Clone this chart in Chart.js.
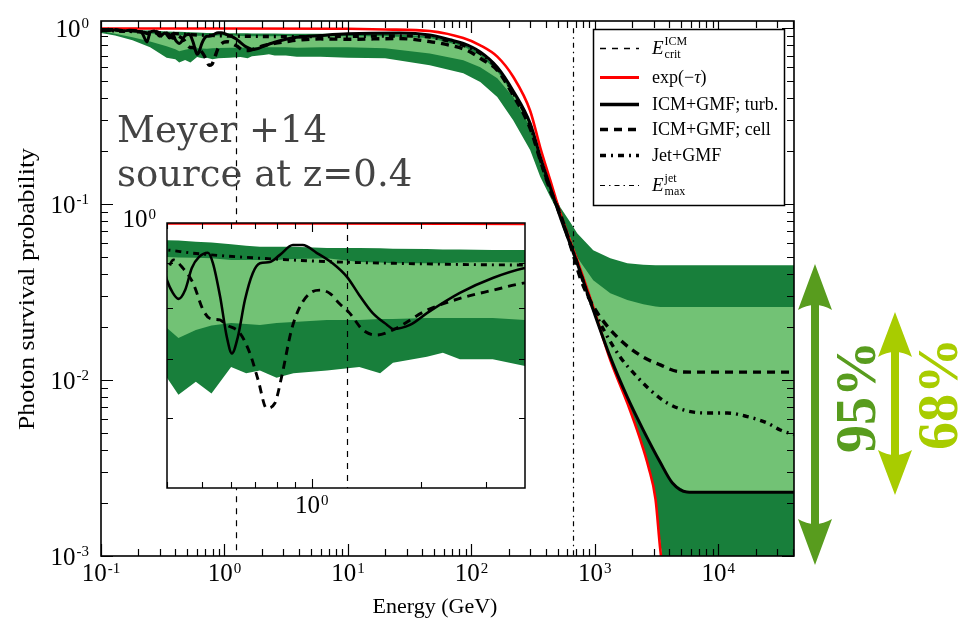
<!DOCTYPE html>
<html>
<head>
<meta charset="utf-8">
<script src="https://cdn.jsdelivr.net/npm/chart.js@4.4.1/dist/chart.umd.min.js"></script>
<style>
  html, body { margin: 0; padding: 0; background: #fff; }
  #wrap { position: relative; width: 961px; height: 621px; overflow: hidden; }
  #main { position: absolute; left: 0; top: 0; }
  #inset { position: absolute; left: 120px; top: 200px; }
</style>
</head>
<body>
<div id="wrap">
  <canvas id="main" width="961" height="621"></canvas>
  <canvas id="inset" width="420" height="320"></canvas>
</div>
<script>
// ---- data (energy in GeV, survival probability) ----
const bandE = [0.1, 0.13, 0.18, 0.25, 0.34, 0.4, 0.43, 0.48, 0.53, 0.6, 0.66, 0.72, 0.8, 0.89, 1.1, 1.35, 1.54, 1.67, 2.07, 2.29, 2.55, 3.14, 3.85, 6, 10, 20, 46, 86, 118, 162, 218, 299, 361, 435, 525, 632, 719, 970, 1334, 1832, 2466, 3100, 3390, 3800, 4300, 5560, 7100, 41000];
const band95Hi = [0.985, 0.98, 0.975, 0.97, 0.96, 0.956, 0.955, 0.952, 0.95, 0.946, 0.942, 0.94, 0.94, 0.94, 0.937, 0.937, 0.936, 0.935, 0.934, 0.933, 0.933, 0.932, 0.932, 0.932, 0.932, 0.93, 0.905, 0.815, 0.725, 0.595, 0.435, 0.285, 0.188, 0.127, 0.096, 0.079, 0.0684, 0.0548, 0.0493, 0.0462, 0.0452, 0.045, 0.045, 0.045, 0.045, 0.045, 0.045, 0.045];
const band68Hi = [0.975, 0.965, 0.95, 0.935, 0.92, 0.915, 0.914, 0.913, 0.912, 0.908, 0.908, 0.908, 0.908, 0.91, 0.912, 0.903, 0.902, 0.9, 0.9, 0.9, 0.902, 0.903, 0.902, 0.9, 0.9, 0.9, 0.88, 0.79, 0.70, 0.57, 0.42, 0.28, 0.18, 0.123, 0.088, 0.065, 0.05, 0.037, 0.0312, 0.0285, 0.027, 0.0262, 0.026, 0.026, 0.026, 0.026, 0.026, 0.026];
const band68Lo = [0.965, 0.93, 0.89, 0.84, 0.79, 0.76, 0.74, 0.756, 0.765, 0.77, 0.768, 0.766, 0.77, 0.772, 0.776, 0.776, 0.778, 0.778, 0.78, 0.78, 0.78, 0.78, 0.776, 0.78, 0.78, 0.77, 0.72, 0.658, 0.60, 0.52, 0.407, 0.275, 0.178, 0.12, 0.084, 0.058, 0.0462, 0.025, 0.0135, 0.008, 0.0052, 0.0039, 0.0034, 0.0029, 0.0026, 0.00231, 0.0023, 0.0023];
const band95Lo = [0.94, 0.91, 0.855, 0.78, 0.68, 0.667, 0.638, 0.66, 0.64, 0.686, 0.675, 0.68, 0.667, 0.675, 0.68, 0.686, 0.675, 0.694, 0.705, 0.712, 0.70, 0.70, 0.688, 0.69, 0.68, 0.675, 0.616, 0.555, 0.495, 0.407, 0.30, 0.203, 0.143, 0.11, 0.085, 0.06, 0.047, 0.0255, 0.0127, 0.0073, 0.0042, 0.0022, 0.0012, 0.0006, 0.0001, 0.0001, 0.0001, 0.0001];

const tauE = [0.1, 1, 10, 20, 46, 86, 118, 162, 218, 299, 361, 435, 525, 719, 970, 1334, 1832, 2330, 2720, 3100, 3390, 3700];
const tauP = [0.998, 0.998, 0.993, 0.985, 0.965, 0.88, 0.80, 0.69, 0.53, 0.34, 0.21, 0.137, 0.089, 0.048, 0.026, 0.013, 0.0074, 0.0046, 0.0032, 0.0021, 0.00108, 0.0007];

const turbE = [0.1, 0.115, 0.13, 0.15, 0.17, 0.2, 0.215, 0.236, 0.25, 0.27, 0.3, 0.33, 0.36, 0.38, 0.4, 0.415, 0.43, 0.449, 0.468, 0.49, 0.518, 0.535, 0.56, 0.584, 0.603, 0.626, 0.655, 0.688, 0.72, 0.767, 0.817, 0.887, 0.944, 1.03, 1.14, 1.25, 1.35, 1.47, 1.61, 1.67, 1.86, 2.07, 2.55, 3.14, 3.85, 6, 10, 26, 46, 67, 86, 118, 162, 218, 299, 361, 435, 525, 719, 970, 1334, 1832, 2466, 3390, 4250, 5560, 7100, 41000];
const turbP = [0.98, 0.97, 0.98, 0.965, 0.975, 0.96, 0.94, 0.836, 0.95, 0.965, 0.9, 0.94, 0.88, 0.93, 0.861, 0.833, 0.82, 0.84, 0.889, 0.915, 0.925, 0.90, 0.824, 0.742, 0.711, 0.742, 0.818, 0.877, 0.90, 0.903, 0.92, 0.944, 0.944, 0.925, 0.90, 0.868, 0.828, 0.79, 0.766, 0.758, 0.766, 0.79, 0.833, 0.866, 0.889, 0.91, 0.93, 0.94, 0.915, 0.86, 0.82, 0.733, 0.60, 0.44, 0.288, 0.186, 0.125, 0.0844, 0.0462, 0.025, 0.0135, 0.008, 0.0052, 0.0034, 0.0026, 0.00231, 0.0023, 0.0023];

const cellE = [0.1, 0.12, 0.15, 0.2, 0.25, 0.28, 0.32, 0.35, 0.38, 0.4, 0.416, 0.443, 0.472, 0.503, 0.525, 0.559, 0.583, 0.634, 0.676, 0.712, 0.751, 0.791, 0.826, 0.879, 0.927, 0.987, 1.052, 1.12, 1.19, 1.27, 1.38, 1.505, 1.67, 2.07, 2.55, 3.15, 3.85, 6, 10, 26, 46, 67, 92, 124, 162, 218, 299, 361, 435, 525, 650, 762, 900, 1107, 1607, 2466, 3390, 4655, 6000, 41000];
const cellP = [0.975, 0.985, 0.97, 0.965, 0.93, 0.96, 0.9, 0.93, 0.88, 0.884, 0.908, 0.888, 0.854, 0.796, 0.779, 0.776, 0.766, 0.75, 0.711, 0.663, 0.616, 0.624, 0.669, 0.756, 0.803, 0.832, 0.839, 0.832, 0.81, 0.79, 0.756, 0.746, 0.756, 0.796, 0.821, 0.839, 0.855, 0.87, 0.866, 0.874, 0.84, 0.80, 0.75, 0.66, 0.577, 0.416, 0.27, 0.178, 0.12, 0.088, 0.055, 0.038, 0.029, 0.0228, 0.0169, 0.0135, 0.0122, 0.0112, 0.0111, 0.0111];

const jetE = [0.1, 0.2, 0.3, 0.4, 0.472, 0.72, 1.1, 1.67, 3.85, 10, 30, 46, 86, 118, 162, 218, 299, 361, 435, 525, 719, 900, 1170, 1607, 2208, 2812, 3864, 5610, 8140, 11820, 17180, 24950, 31700, 41000];
const jetP = [0.975, 0.955, 0.94, 0.932, 0.924, 0.912, 0.904, 0.90, 0.896, 0.90, 0.905, 0.89, 0.80, 0.72, 0.59, 0.43, 0.28, 0.18, 0.122, 0.086, 0.046, 0.029, 0.0195, 0.0135, 0.0104, 0.00877, 0.0074, 0.00667, 0.0065, 0.0065, 0.0062, 0.0057, 0.0052, 0.0049];

const critE = 1.25;     // E_crit^ICM
const jetMaxE = 668;    // E_max^jet
const xTickExps = [-1, 0, 1, 2, 3, 4];
const yTickExps = [0, -1, -2, -3];

// ---- styling ----
const DARK = '#187f3b';
const LIGHT = '#72c275';
const SERIF = '"Liberation Serif", "Times New Roman", serif';
const ARROW95 = '#589c1e';
const ARROW68 = '#a8cc00';

const pts = (xs, ys) => xs.map((x, i) => ({ x: x, y: ys[i] }));

function datasets(w) {
  const base = { pointRadius: 0, pointHoverRadius: 0, pointHitRadius: 0, fill: false };
  return [
    Object.assign({}, base, { label: 'ICM+GMF; turb.', data: pts(turbE, turbP), borderColor: '#000', borderWidth: 3 * w, cubicInterpolationMode: 'monotone' }),
    Object.assign({}, base, { label: 'ICM+GMF; cell', data: pts(cellE, cellP), borderColor: '#000', borderWidth: 3.4 * w, borderDash: [8, 6], cubicInterpolationMode: 'monotone' }),
    Object.assign({}, base, { label: 'Jet+GMF', data: pts(jetE, jetP), borderColor: '#000', borderWidth: 3.4 * w, borderDash: [6, 5, 2, 5], cubicInterpolationMode: 'monotone' }),
    Object.assign({}, base, { label: 'exp(-tau)', data: pts(tauE, tauP), borderColor: '#ff0000', borderWidth: 2.6 * w, cubicInterpolationMode: 'monotone' }),
    Object.assign({}, base, { label: '68% upper', data: pts(bandE, band68Hi), borderColor: 'rgba(0,0,0,0)', borderWidth: 0, tension: 0 }),
    Object.assign({}, base, { label: '68% lower', data: pts(bandE, band68Lo), borderColor: 'rgba(0,0,0,0)', borderWidth: 0, tension: 0, fill: '-1', backgroundColor: LIGHT }),
    Object.assign({}, base, { label: '95% upper', data: pts(bandE, band95Hi), borderColor: 'rgba(0,0,0,0)', borderWidth: 0, tension: 0 }),
    Object.assign({}, base, { label: '95% lower', data: pts(bandE, band95Lo), borderColor: 'rgba(0,0,0,0)', borderWidth: 0, tension: 0, fill: '-1', backgroundColor: DARK })
  ];
}

function logTicks(min, max) {
  const out = [];
  for (let e = Math.floor(Math.log10(min)) - 1; e <= Math.ceil(Math.log10(max)); e++) {
    for (let m = 1; m <= 9; m++) {
      const v = m * Math.pow(10, e);
      if (v >= min * 0.9999 && v <= max * 1.0001) out.push({ v: v, major: m === 1 });
    }
  }
  return out;
}

// "10" with a raised exponent
function drawPow(ctx, x, y, exp, size, align) {
  const ss = Math.round(size * 0.6);
  ctx.font = size + 'px ' + SERIF;
  const wb = ctx.measureText('10').width;
  ctx.font = ss + 'px ' + SERIF;
  const ws = ctx.measureText(String(exp)).width;
  const x0 = align === 'right' ? x - wb - ws - 1 : x - (wb + ws + 1) / 2;
  ctx.textAlign = 'left';
  ctx.textBaseline = 'alphabetic';
  ctx.font = size + 'px ' + SERIF;
  ctx.fillText('10', x0, y);
  ctx.font = ss + 'px ' + SERIF;
  ctx.fillText(String(exp), x0 + wb + 1, y - size * 0.34);
}

function drawInwardTicks(ctx, area, xs, ys, xScale, yScale, majorLen, minorLen) {
  ctx.beginPath();
  logTicks(xs[0], xs[1]).forEach(t => {
    const px = Math.round(xScale.getPixelForValue(t.v)) + 0.5;
    const L = t.major ? majorLen : minorLen;
    ctx.moveTo(px, area.bottom); ctx.lineTo(px, area.bottom - L);
    ctx.moveTo(px, area.top); ctx.lineTo(px, area.top + L);
  });
  logTicks(ys[0], ys[1]).forEach(t => {
    const py = Math.round(yScale.getPixelForValue(t.v)) + 0.5;
    const L = t.major ? majorLen : minorLen;
    ctx.moveTo(area.left, py); ctx.lineTo(area.left + L, py);
    ctx.moveTo(area.right, py); ctx.lineTo(area.right - L, py);
  });
  ctx.stroke();
}

function vline(ctx, x, y0, y1, dash, width) {
  ctx.save();
  ctx.strokeStyle = '#000';
  ctx.lineWidth = width;
  ctx.setLineDash(dash);
  ctx.beginPath();
  ctx.moveTo(Math.round(x) + 0.5, y0);
  ctx.lineTo(Math.round(x) + 0.5, y1);
  ctx.stroke();
  ctx.restore();
}

// E with sub/superscript, used in the legend
function drawE(ctx, x, y, sup, sub) {
  ctx.font = 'italic 19px ' + SERIF;
  ctx.fillText('E', x, y);
  const w = ctx.measureText('E').width;
  ctx.font = '12px ' + SERIF;
  ctx.fillText(sup, x + w + 1, y - 9);
  ctx.fillText(sub, x + w + 1, y + 4);
}

function drawLegend(ctx) {
  const x0 = 593.5, y0 = 29.5, w = 191, h = 176;
  ctx.save();
  ctx.fillStyle = '#fff';
  ctx.fillRect(x0, y0, w, h);
  ctx.strokeStyle = '#000';
  ctx.lineWidth = 1.5;
  ctx.strokeRect(x0, y0, w, h);
  const rows = [
    { y: 48, color: '#000', width: 1.3, dash: [6, 6] },
    { y: 77, color: '#ff0000', width: 3, dash: [] },
    { y: 104, color: '#000', width: 3.5, dash: [] },
    { y: 129, color: '#000', width: 3.5, dash: [8, 6] },
    { y: 155, color: '#000', width: 3.5, dash: [6, 5, 2, 5] },
    { y: 185, color: '#000', width: 1.2, dash: [5, 4, 1.5, 4] }
  ];
  rows.forEach(r => {
    ctx.strokeStyle = r.color;
    ctx.lineWidth = r.width;
    ctx.setLineDash(r.dash);
    ctx.beginPath();
    ctx.moveTo(600, r.y + 0.5);
    ctx.lineTo(639, r.y + 0.5);
    ctx.stroke();
  });
  ctx.setLineDash([]);
  ctx.fillStyle = '#000';
  ctx.textAlign = 'left';
  ctx.textBaseline = 'alphabetic';
  drawE(ctx, 652, 54, 'ICM', 'crit');
  ctx.font = '18px ' + SERIF;
  ctx.fillText('exp(\u2212', 652, 83);
  let wx = 652 + ctx.measureText('exp(\u2212').width;
  ctx.font = 'italic 18px ' + SERIF;
  ctx.fillText('\u03c4', wx, 83);
  wx += ctx.measureText('\u03c4').width;
  ctx.font = '18px ' + SERIF;
  ctx.fillText(')', wx, 83);
  ctx.fillText('ICM+GMF; turb.', 652, 110);
  ctx.fillText('ICM+GMF; cell', 652, 135);
  ctx.fillText('Jet+GMF', 652, 161);
  drawE(ctx, 652, 191, 'jet', 'max');
  ctx.restore();
}

function doubleArrow(ctx, cx, top, bottom, headLen, headW, shaftW, color) {
  ctx.save();
  ctx.fillStyle = color;
  ctx.beginPath();
  ctx.moveTo(cx, top);
  ctx.lineTo(cx + headW / 2, top + headLen);
  ctx.quadraticCurveTo(cx, top + headLen - 10, cx - headW / 2, top + headLen);
  ctx.closePath();
  ctx.fill();
  ctx.beginPath();
  ctx.moveTo(cx, bottom);
  ctx.lineTo(cx + headW / 2, bottom - headLen);
  ctx.quadraticCurveTo(cx, bottom - headLen + 10, cx - headW / 2, bottom - headLen);
  ctx.closePath();
  ctx.fill();
  ctx.fillRect(cx - shaftW / 2, top + headLen - 6, shaftW, bottom - top - 2 * headLen + 12);
  ctx.restore();
}

// text running bottom-to-top; stretch lengthens it along the reading direction
function vertText(ctx, text, x, y, font, color, stretch) {
  ctx.save();
  ctx.translate(x, y);
  ctx.rotate(-Math.PI / 2);
  if (stretch) ctx.scale(stretch, 1);
  ctx.font = font;
  ctx.fillStyle = color;
  ctx.textAlign = 'center';
  ctx.textBaseline = 'alphabetic';
  ctx.fillText(text, 0, 0);
  ctx.restore();
}

const X_MIN = 0.1, X_MAX = 41000, Y_MIN = 0.001, Y_MAX = 1.1;

const mainDecor = {
  id: 'mainDecor',
  afterDatasetsDraw(chart) {
    const ctx = chart.ctx, a = chart.chartArea;
    const xs = chart.scales.x, ys = chart.scales.y;
    const yOne = ys.getPixelForValue(1);
    vline(ctx, xs.getPixelForValue(critE), yOne, a.bottom, [6, 6], 1.2);
    vline(ctx, xs.getPixelForValue(jetMaxE), yOne, a.bottom, [5, 4, 1.5, 4], 1.2);
    ctx.save();
    ctx.strokeStyle = '#000';
    ctx.lineWidth = 1.2;
    drawInwardTicks(ctx, a, [X_MIN, X_MAX], [Y_MIN, Y_MAX], xs, ys, 12, 7);
    ctx.lineWidth = 1.6;
    ctx.strokeRect(a.left, a.top, a.right - a.left, a.bottom - a.top);
    ctx.restore();
  },
  afterDraw(chart) {
    const ctx = chart.ctx;
    const xs = chart.scales.x, ys = chart.scales.y;
    ctx.save();
    ctx.fillStyle = '#000';
    xTickExps.forEach(e => drawPow(ctx, xs.getPixelForValue(Math.pow(10, e)), 581, e, 25, 'center'));
    yTickExps.forEach(e => drawPow(ctx, 89, ys.getPixelForValue(Math.pow(10, e)) + 8.5, e, 25, 'right'));
    ctx.font = '22px ' + SERIF;
    ctx.textAlign = 'center';
    ctx.fillText('Energy (GeV)', 435, 613);
    vertText(ctx, 'Photon survival probability', 34, 289, '23px ' + SERIF, '#000', 1.12);
    ctx.fillStyle = '#444';
    ctx.textAlign = 'left';
    ctx.font = '37px "DejaVu Serif", serif';
    ctx.fillText('Meyer +14', 117, 142);
    ctx.fillText('source at z=0.4', 117, 186);
    ctx.restore();
    drawLegend(ctx);
    doubleArrow(ctx, 815, 264, 565, 46, 34, 8, ARROW95);
    doubleArrow(ctx, 895, 312, 495, 45, 34, 8, ARROW68);
    vertText(ctx, '95%', 875, 397, 'bold 56px ' + SERIF, ARROW95);
    vertText(ctx, '68%', 957, 394, 'bold 56px ' + SERIF, ARROW68);
  }
};

Chart.defaults.font.family = SERIF;

new Chart(document.getElementById('main'), {
  type: 'line',
  data: { datasets: datasets(1) },
  options: {
    responsive: false,
    animation: false,
    events: [],
    layout: { padding: { left: 101, top: 21, right: 167, bottom: 65 } },
    plugins: { legend: { display: false }, tooltip: { enabled: false } },
    scales: {
      x: { type: 'logarithmic', min: X_MIN, max: X_MAX, display: false },
      y: { type: 'logarithmic', min: Y_MIN, max: Y_MAX, display: false }
    }
  },
  plugins: [mainDecor]
});

// ---- zoomed view of the low-energy region ----
const IX_MIN = 0.4, IX_MAX = 3.85, IY_MIN = 0.5, IY_MAX = 1.0;

const insetDecor = {
  id: 'insetDecor',
  beforeDatasetsDraw(chart) {
    const ctx = chart.ctx, a = chart.chartArea;
    ctx.save();
    ctx.fillStyle = '#fff';
    ctx.fillRect(a.left, a.top, a.right - a.left, a.bottom - a.top);
    ctx.restore();
  },
  afterDatasetsDraw(chart) {
    const ctx = chart.ctx, a = chart.chartArea;
    const xs = chart.scales.x, ys = chart.scales.y;
    vline(ctx, xs.getPixelForValue(critE), a.top, a.bottom, [6, 6], 1.2);
    ctx.save();
    ctx.strokeStyle = '#000';
    ctx.lineWidth = 1.1;
    drawInwardTicks(ctx, a, [IX_MIN, IX_MAX], [IY_MIN + 0.05, IY_MAX - 0.05], xs, ys, 9, 6);
    ctx.lineWidth = 1.5;
    ctx.strokeRect(a.left, a.top, a.right - a.left, a.bottom - a.top);
    ctx.restore();
  },
  afterDraw(chart) {
    const ctx = chart.ctx;
    const xs = chart.scales.x;
    ctx.save();
    ctx.fillStyle = '#000';
    drawPow(ctx, 36, 27, 0, 25, 'right');
    drawPow(ctx, xs.getPixelForValue(1), 313, 0, 25, 'center');
    ctx.restore();
  }
};

new Chart(document.getElementById('inset'), {
  type: 'line',
  data: { datasets: datasets(0.85) },
  options: {
    responsive: false,
    animation: false,
    events: [],
    layout: { padding: { left: 47, top: 23, right: 15, bottom: 32 } },
    plugins: { legend: { display: false }, tooltip: { enabled: false } },
    scales: {
      x: { type: 'logarithmic', min: IX_MIN, max: IX_MAX, display: false },
      y: { type: 'logarithmic', min: IY_MIN, max: IY_MAX, display: false }
    }
  },
  plugins: [insetDecor]
});
</script>
</body>
</html>
